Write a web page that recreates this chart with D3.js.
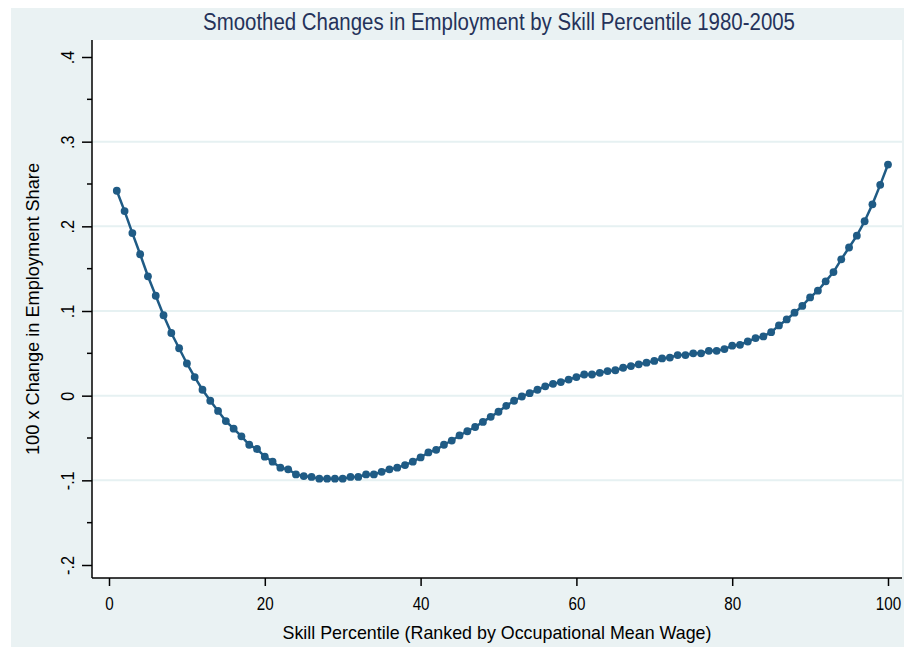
<!DOCTYPE html>
<html>
<head>
<meta charset="utf-8">
<script src="https://cdn.jsdelivr.net/npm/d3@7"></script>
<style>
  html, body { margin: 0; padding: 0; background: #ffffff; }
  svg { display: block; }
  text { font-family: "Liberation Sans Narrow", "Arial Narrow", "Liberation Sans", Arial, sans-serif; }
</style>
</head>
<body>
<script>
// Skill percentiles 1..100 and smoothed change in employment share (x100)
const percentiles = d3.range(1, 101);
const changes = [
  0.242, 0.218, 0.192, 0.167, 0.141, 0.118, 0.095, 0.074, 0.056, 0.038,
  0.022, 0.007, -0.006, -0.018, -0.030, -0.039, -0.048, -0.058, -0.063, -0.072,
  -0.078, -0.085, -0.087, -0.093, -0.095, -0.096, -0.098, -0.098, -0.098, -0.098,
  -0.096, -0.096, -0.093, -0.093, -0.090, -0.087, -0.085, -0.082, -0.078, -0.073,
  -0.067, -0.064, -0.058, -0.053, -0.047, -0.042, -0.037, -0.031, -0.025, -0.019,
  -0.012, -0.006, -0.001, 0.003, 0.007, 0.011, 0.014, 0.016, 0.019, 0.022,
  0.025, 0.025, 0.027, 0.029, 0.030, 0.033, 0.035, 0.037, 0.039, 0.041,
  0.044, 0.045, 0.048, 0.048, 0.050, 0.050, 0.053, 0.053, 0.055, 0.059,
  0.060, 0.064, 0.068, 0.070, 0.075, 0.083, 0.090, 0.098, 0.106, 0.116,
  0.124, 0.135, 0.146, 0.161, 0.175, 0.189, 0.206, 0.226, 0.249, 0.273
];
const xTicks = [0, 20, 40, 60, 80, 100];
const yTicks = [-0.2, -0.1, 0, 0.1, 0.2, 0.3, 0.4];
const yTickLabels = ["-.2", "-.1", "0", ".1", ".2", ".3", ".4"];
const yMinorTicks = [-0.15, -0.05, 0.05, 0.15, 0.25, 0.35];
const yGridTicks = [-0.1, 0, 0.1, 0.2, 0.3];

const titleText = "Smoothed Changes in Employment by Skill Percentile 1980-2005";
const xTitle = "Skill Percentile (Ranked by Occupational Mean Wage)";
const yTitle = "100 x Change in Employment Share";

const W = 904, H = 647;
const plot = { left: 92, right: 902, top: 40, bottom: 578 };

const svg = d3.select("body").append("svg").attr("width", W).attr("height", H);

// Outer graph background
svg.append("rect").attr("x", 11).attr("y", 8).attr("width", W - 11).attr("height", H - 8)
  .attr("fill", "#eaf2f3");

// Plot region
svg.append("rect").attr("x", plot.left).attr("y", plot.top)
  .attr("width", plot.right - plot.left).attr("height", plot.bottom - plot.top)
  .attr("fill", "#ffffff");

const x = d3.scaleLinear().domain([0, 100]).range([109, 888]);
const y = d3.scaleLinear().domain([-0.2, 0.4]).range([565, 57]);

// Horizontal gridlines
svg.append("g").selectAll("line").data(yGridTicks).join("line")
  .attr("x1", plot.left).attr("x2", plot.right)
  .attr("y1", d => y(d)).attr("y2", d => y(d))
  .attr("stroke", "#e6f1f2").attr("stroke-width", 2);

// Y axis
const yAxis = d3.axisLeft(y).tickValues(yTicks)
  .tickFormat((d, i) => yTickLabels[i]).tickSize(10).tickPadding(0);
const gy = svg.append("g").attr("transform", `translate(${plot.left},0)`).call(yAxis);
gy.select(".domain").attr("d", `M0,${plot.top}V${plot.bottom}`).attr("stroke", "#000").attr("stroke-width", 1.5);
gy.selectAll(".tick line").attr("stroke", "#000").attr("stroke-width", 1.5);
gy.selectAll(".tick text")
  .attr("x", 0).attr("y", 0)
  .attr("transform", "translate(-25,0) rotate(-90) scale(0.85,1)")
  .attr("text-anchor", "middle").attr("dy", "0.35em")
  .attr("font-size", 19).attr("fill", "#000");

// Y minor ticks
gy.append("g").selectAll("line").data(yMinorTicks).join("line")
  .attr("x1", -5).attr("x2", 0)
  .attr("y1", d => y(d)).attr("y2", d => y(d))
  .attr("stroke", "#000").attr("stroke-width", 1.5);

// X axis
const xAxis = d3.axisBottom(x).tickValues(xTicks).tickFormat(d3.format("d")).tickSize(8).tickPadding(11);
const gx = svg.append("g").attr("transform", `translate(0,${plot.bottom})`).call(xAxis);
gx.select(".domain").attr("d", `M${plot.left},0H${plot.right}`).attr("stroke", "#000").attr("stroke-width", 1.5);
gx.selectAll(".tick line").attr("stroke", "#000").attr("stroke-width", 1.5);
gx.selectAll(".tick text").attr("font-size", 19).attr("fill", "#000")
  .attr("transform", "scale(0.8,1)");

// Titles (condensed to fit their drawn widths)
svg.append("text").attr("x", 499).attr("y", 30).attr("text-anchor", "middle")
  .attr("font-size", 23).attr("fill", "#25325a")
  .attr("textLength", 592).attr("lengthAdjust", "spacingAndGlyphs").text(titleText);
svg.append("text").attr("x", 497).attr("y", 639).attr("text-anchor", "middle")
  .attr("font-size", 19).attr("fill", "#000")
  .attr("textLength", 429).attr("lengthAdjust", "spacingAndGlyphs").text(xTitle);
svg.append("text").attr("transform", "translate(39,309) rotate(-90)").attr("text-anchor", "middle")
  .attr("font-size", 19).attr("fill", "#000")
  .attr("textLength", 292).attr("lengthAdjust", "spacingAndGlyphs").text(yTitle);

// Series: connected line with markers
const pts = percentiles.map((p, i) => [p, changes[i]]);
const color = "#1f5b85";
svg.append("path").datum(pts)
  .attr("d", d3.line().x(d => x(d[0])).y(d => y(d[1])))
  .attr("fill", "none").attr("stroke", color).attr("stroke-width", 2.5);
svg.append("g").selectAll("circle").data(pts).join("circle")
  .attr("cx", d => x(d[0])).attr("cy", d => y(d[1])).attr("r", 3.9)
  .attr("fill", color);
</script>
</body>
</html>
